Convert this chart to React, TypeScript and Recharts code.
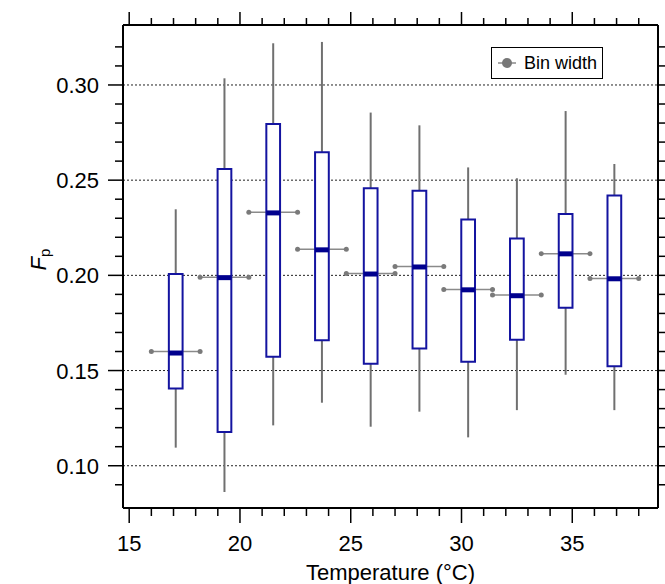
'use client'

import React from 'react'
import { ComposedChart, XAxis, YAxis, ReferenceLine, ReferenceArea, Scatter, Legend } from 'recharts'

// temperature bins (°C)
const binCenters = [17.1, 19.3, 21.5, 23.7, 25.9, 28.1, 30.3, 32.5, 34.7, 36.9]
const binStarts = [16.0, 18.2, 20.4, 22.6, 24.8, 27.0, 29.2, 31.4, 33.6, 35.8]
const binEnds = [18.2, 20.4, 22.6, 24.8, 27.0, 29.2, 31.4, 33.6, 35.8, 38.0]

// Fp statistics for each bin
const fpMin = [0.1095, 0.0862, 0.1212, 0.1331, 0.1205, 0.1284, 0.1149, 0.1292, 0.1478, 0.1292]
const fpQ1 = [0.1406, 0.1177, 0.1573, 0.1659, 0.1536, 0.1616, 0.1546, 0.1662, 0.183, 0.1522]
const fpMedian = [0.1592, 0.1988, 0.2328, 0.2134, 0.2007, 0.2044, 0.1924, 0.1893, 0.2113, 0.1982]
const fpQ3 = [0.2007, 0.2559, 0.2795, 0.2646, 0.2457, 0.2445, 0.2294, 0.2193, 0.2322, 0.2419]
const fpMax = [0.2347, 0.3035, 0.3219, 0.3226, 0.2855, 0.2788, 0.2567, 0.251, 0.2863, 0.2585]
const fpMean = [0.16, 0.199, 0.2331, 0.2137, 0.201, 0.2047, 0.1926, 0.1897, 0.2114, 0.1984]

const xTicks = [15, 16, 17, 18, 19, 20, 21, 22, 23, 24, 25, 26, 27, 28, 29, 30, 31, 32, 33, 34, 35, 36, 37, 38]
const xMajorTicks = [15, 20, 25, 30, 35]
const yTicks = [
  0.09, 0.1, 0.11, 0.12, 0.13, 0.14, 0.15, 0.16, 0.17, 0.18, 0.19, 0.2,
  0.21, 0.22, 0.23, 0.24, 0.25, 0.26, 0.27, 0.28, 0.29, 0.3, 0.31, 0.32,
]
const yMajorTicks = [0.1, 0.15, 0.2, 0.25, 0.3]

// ends of each bin-width bar, drawn as dots
const binEndpoints = binCenters.flatMap((_, i) => [
  { t: binStarts[i], fp: fpMean[i] },
  { t: binEnds[i], fp: fpMean[i] },
])

const X_DOMAIN: [number, number] = [14.72, 38.87]
const Y_DOMAIN: [number, number] = [0.0778, 0.3315]
const BOX_HALF = 0.31

const FONT = '"Liberation Sans", Arial, Helvetica, sans-serif'
const BOX_BLUE = '#1414a0'
const MEDIAN_BLUE = '#00008e'
const WHISKER_GRAY = '#707070'
const BIN_GRAY = '#8a8a8a'

const isMajor = (v: number, majors: number[]) => majors.some((m) => Math.abs(m - v) < 1e-6)

const BottomTick = (props: any) => {
  const { x, y, payload } = props
  const major = isMajor(payload.value, xMajorTicks)
  return (
    <g>
      <line x1={x} y1={y} x2={x} y2={y + (major ? 15 : 8)} stroke="#000" strokeWidth={1.5} />
      {major && (
        <text x={x} y={y + 43} textAnchor="middle" fontSize={22} fontFamily={FONT} fill="#000">
          {payload.value}
        </text>
      )}
    </g>
  )
}

const TopTick = (props: any) => {
  const { x, y, payload } = props
  const major = isMajor(payload.value, xMajorTicks)
  return <line x1={x} y1={y} x2={x} y2={y - (major ? 13 : 7)} stroke="#000" strokeWidth={1.5} />
}

const LeftTick = (props: any) => {
  const { x, y, payload } = props
  const major = isMajor(payload.value, yMajorTicks)
  return (
    <g>
      <line x1={x} y1={y} x2={x - (major ? 15 : 8)} y2={y} stroke="#000" strokeWidth={1.5} />
      {major && (
        <text x={x - 24} y={y + 8} textAnchor="end" fontSize={22} fontFamily={FONT} fill="#000">
          {payload.value.toFixed(2)}
        </text>
      )}
    </g>
  )
}

const RightTick = (props: any) => {
  const { x, y } = props
  return <line x1={x} y1={y} x2={x + 7} y2={y} stroke="#000" strokeWidth={1.5} />
}

const YTitle = (props: any) => {
  const vb = props.viewBox
  const cx = vb.x + 46
  const cy = vb.y + vb.height / 2 - 7
  return (
    <text x={cx} y={cy} transform={`rotate(-90 ${cx} ${cy})`} textAnchor="middle" fontFamily={FONT} fontSize={22} fill="#000">
      <tspan fontStyle="italic">F</tspan>
      <tspan fontSize={15} dy={4}>p</tspan>
    </text>
  )
}

const XTitle = (props: any) => {
  const vb = props.viewBox
  return (
    <text x={vb.x + vb.width / 2} y={vb.y + 72} textAnchor="middle" fontFamily={FONT} fontSize={22} fill="#000">
      Temperature (°C)
    </text>
  )
}

const BinDot = (props: any) => <circle cx={props.cx} cy={props.cy} r={2.5} fill="#7a7a7a" />

const BinLegend = () => (
  <div
    style={{
      width: 112,
      height: 32,
      boxSizing: 'border-box',
      border: '1.5px solid #000',
      background: '#fff',
      display: 'flex',
      alignItems: 'center',
      paddingLeft: 6,
      fontFamily: FONT,
      fontSize: 18,
      color: '#000',
    }}
  >
    <svg width={18} height={12} style={{ marginRight: 8 }}>
      <line x1={0} y1={6} x2={18} y2={6} stroke={BIN_GRAY} strokeWidth={1.5} />
      <circle cx={9} cy={6} r={5} fill="#777" />
    </svg>
    <span>Bin width</span>
  </div>
)

const axisLine = { stroke: '#000', strokeWidth: 2 }

export default function App() {
  return (
    <div style={{ position: 'absolute', left: 0, top: 0, background: '#fff' }}>
      <ComposedChart width={665} height={584} data={binEndpoints} margin={{ top: 0, right: 0, bottom: 0, left: 0 }}>
        <XAxis
          xAxisId="x"
          dataKey="t"
          type="number"
          domain={X_DOMAIN}
          allowDataOverflow
          ticks={xTicks}
          interval={0}
          height={76}
          tickSize={0}
          tickMargin={0}
          tickLine={false}
          axisLine={axisLine}
          tick={BottomTick}
          label={{ content: XTitle }}
        />
        <XAxis
          xAxisId="top"
          orientation="top"
          dataKey="t"
          type="number"
          domain={X_DOMAIN}
          allowDataOverflow
          ticks={xTicks}
          interval={0}
          height={25}
          tickSize={0}
          tickMargin={0}
          tickLine={false}
          axisLine={axisLine}
          tick={TopTick}
        />
        <YAxis
          yAxisId="y"
          type="number"
          domain={Y_DOMAIN}
          allowDataOverflow
          ticks={yTicks}
          interval={0}
          width={123}
          tickSize={0}
          tickMargin={0}
          tickLine={false}
          axisLine={axisLine}
          tick={LeftTick}
          label={{ content: YTitle }}
        />
        <YAxis
          yAxisId="right"
          orientation="right"
          type="number"
          domain={Y_DOMAIN}
          allowDataOverflow
          ticks={yTicks}
          interval={0}
          width={7}
          tickSize={0}
          tickMargin={0}
          tickLine={false}
          axisLine={axisLine}
          tick={RightTick}
        />

        {yMajorTicks.map((v) => (
          <ReferenceLine
            key={`grid-${v}`}
            xAxisId="x"
            yAxisId="y"
            y={v}
            stroke="#222"
            strokeWidth={1}
            strokeDasharray="2 2"
            zIndex={-100}
          />
        ))}

        {binCenters.flatMap((c, i) => [
          <ReferenceLine
            key={`wh-hi-${i}`}
            xAxisId="x"
            yAxisId="y"
            segment={[{ x: c, y: fpQ3[i] }, { x: c, y: fpMax[i] }]}
            stroke={WHISKER_GRAY}
            strokeWidth={2}
            zIndex={100}
          />,
          <ReferenceLine
            key={`wh-lo-${i}`}
            xAxisId="x"
            yAxisId="y"
            segment={[{ x: c, y: fpMin[i] }, { x: c, y: fpQ1[i] }]}
            stroke={WHISKER_GRAY}
            strokeWidth={2}
            zIndex={100}
          />,
          <ReferenceLine
            key={`bin-${i}`}
            xAxisId="x"
            yAxisId="y"
            segment={[{ x: binStarts[i], y: fpMean[i] }, { x: binEnds[i], y: fpMean[i] }]}
            stroke={BIN_GRAY}
            strokeWidth={1.5}
            zIndex={100}
          />,
        ])}

        {binCenters.map((c, i) => (
          <ReferenceArea
            key={`box-${i}`}
            xAxisId="x"
            yAxisId="y"
            x1={c - BOX_HALF}
            x2={c + BOX_HALF}
            y1={fpQ1[i]}
            y2={fpQ3[i]}
            fill="#fff"
            fillOpacity={1}
            stroke={BOX_BLUE}
            strokeWidth={2}
            zIndex={200}
          />
        ))}

        {binCenters.map((c, i) => (
          <ReferenceLine
            key={`med-${i}`}
            xAxisId="x"
            yAxisId="y"
            segment={[{ x: c - BOX_HALF, y: fpMedian[i] }, { x: c + BOX_HALF, y: fpMedian[i] }]}
            stroke={MEDIAN_BLUE}
            strokeWidth={5}
            zIndex={300}
          />
        ))}

        <Scatter
          xAxisId="x"
          yAxisId="y"
          dataKey="fp"
          shape={BinDot}
          isAnimationActive={false}
          legendType="none"
        />

        <Legend
          layout="horizontal"
          verticalAlign="middle"
          align="center"
          wrapperStyle={{ left: 491, top: 47, width: 'auto' }}
          content={() => <BinLegend />}
        />
      </ComposedChart>
    </div>
  )
}
